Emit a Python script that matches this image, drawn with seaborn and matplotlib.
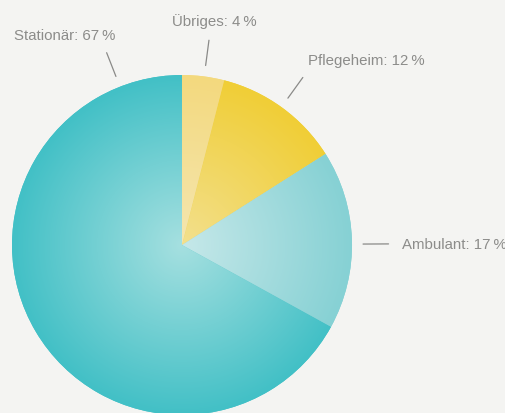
import numpy as np
import matplotlib
matplotlib.use("Agg")
import matplotlib.pyplot as plt
import seaborn as sns
from matplotlib.colors import to_rgb

sns.set_theme(style="white")
plt.rcParams['font.family'] = ['Liberation Sans', 'DejaVu Sans']

categories = ["Übriges", "Pflegeheim", "Ambulant", "Stationär"]
shares = [4, 12, 17, 67]
labels = ["Übriges: 4\u2009%", "Pflegeheim: 12\u2009%", "Ambulant: 17\u2009%", "Stationär: 67\u2009%"]
inner_colors = ["#f5e6b0", "#f3e08e", "#c6e8e9", "#a6e0e0"]
outer_colors = ["#f3d97e", "#f0ce36", "#86d1d4", "#42c0c6"]

bg = "#f4f4f2"
W, H = 506, 413
fig = plt.figure(figsize=(W / 100, H / 100), dpi=100, facecolor=bg)
ax = fig.add_axes([0, 0, 1, 1])
ax.set_facecolor(bg)

cx, cy, R = 182, 413 - 245, 170
wedges, _ = ax.pie(shares, startangle=90, counterclock=False, center=(cx, cy),
                   radius=R, frame=True, colors=outer_colors,
                   wedgeprops=dict(linewidth=0))
ax.set_xlim(0, W)
ax.set_ylim(0, H)
ax.set_aspect("equal")
ax.axis("off")

# radial gradient fill clipped to each wedge
n = 400
xs = np.linspace(cx - R, cx + R, n)
ys = np.linspace(cy - R, cy + R, n)
X, Y = np.meshgrid(xs, ys)
t = np.clip(np.sqrt((X - cx) ** 2 + (Y - cy) ** 2) / R, 0, 1)
for w, ci, co in zip(wedges, inner_colors, outer_colors):
    a = np.array(to_rgb(ci)); b = np.array(to_rgb(co))
    img = a[None, None, :] * (1 - t[..., None]) + b[None, None, :] * t[..., None]
    im = ax.imshow(img, extent=(cx - R, cx + R, cy - R, cy + R), origin="lower",
                   interpolation="bilinear", zorder=2)
    im.set_clip_path(w)

# leader lines and labels
label_angles = [7.5, 35.8, 89.7, -21.4]   # degrees clockwise from top
label_pos = [(214, 22, "center"), (308, 61, "left"), (402, 245, "left"), (14, 36, "left")]
for ang, lab, (tx, ty, ha) in zip(label_angles, labels, label_pos):
    th = np.deg2rad(ang)
    r1, r2 = R * 1.065, R * 1.215
    ax.plot([cx + r1 * np.sin(th), cx + r2 * np.sin(th)],
            [cy + r1 * np.cos(th), cy + r2 * np.cos(th)],
            color="#8a8a88", lw=0.9, zorder=3)
    ax.text(tx, H - ty, lab, ha=ha, va="center", fontsize=10.8, color="#8c8c8a", zorder=3)

fig.savefig("out.png", dpi=100, facecolor=bg)
